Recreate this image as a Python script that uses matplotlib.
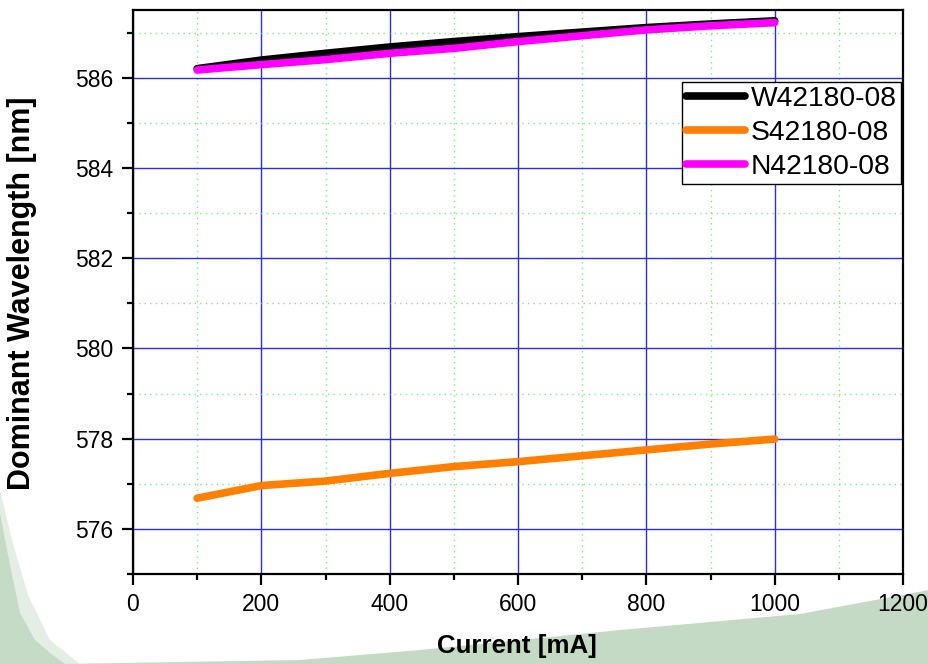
import matplotlib
matplotlib.use("Agg")
import matplotlib.pyplot as plt
from matplotlib.patches import Polygon
from matplotlib.ticker import MultipleLocator

current = [100, 200, 300, 400, 500, 600, 700, 800, 900, 1000]
w_series = [586.20, 586.39, 586.54, 586.68, 586.80, 586.91, 587.01, 587.11, 587.19, 587.26]
s_series = [576.68, 576.96, 577.06, 577.23, 577.38, 577.49, 577.62, 577.75, 577.88, 577.99]
n_series = [586.17, 586.29, 586.40, 586.54, 586.65, 586.80, 586.93, 587.06, 587.15, 587.22]
labels = ["W42180-08", "S42180-08", "N42180-08"]
colors = ["#000000", "#ff8000", "#ff00ff"]

plt.rcParams['font.family'] = ['Liberation Sans', 'DejaVu Sans']

fig = plt.figure(figsize=(9.29, 6.64), dpi=100)
fig.patch.set_facecolor('white')

# slide background decorations
W, H = 929, 664
def fp(pts):
    return [(x / W, 1 - y / H) for x, y in pts]
bg0 = Polygon(fp([(0, 490), (12, 540), (28, 595), (50, 640), (80, 664), (0, 664)]),
              closed=True, transform=fig.transFigure, facecolor='#e4eee4', edgecolor='none', zorder=-2)
bg1 = Polygon(fp([(0, 513), (8, 555), (20, 613), (35, 640), (50, 653), (65, 664), (0, 664)]),
              closed=True, transform=fig.transFigure, facecolor='#c6dbc6', edgecolor='none', zorder=-1)
bg2 = Polygon(fp([(60, 664), (300, 660), (420, 650), (620, 630), (800, 614), (929, 590), (929, 664)]),
              closed=True, transform=fig.transFigure, facecolor='#c4dac4', edgecolor='none', zorder=-1)
fig.patches.extend([bg0, bg1, bg2])

ax = fig.add_axes([133 / W, 1 - 574 / H, 770 / W, 564 / H])
ax.set_facecolor('white')

for y, lab, c in zip([w_series, s_series, n_series], labels, colors):
    ax.plot(current, y, color=c, lw=5.5, solid_capstyle='round', solid_joinstyle='round', label=lab, zorder=3)

ax.set_xlim(0, 1200)
ax.set_ylim(575, 587.5)
ax.xaxis.set_major_locator(MultipleLocator(200))
ax.xaxis.set_minor_locator(MultipleLocator(100))
ax.yaxis.set_minor_locator(MultipleLocator(1))
ax.set_yticks([576, 578, 580, 582, 584, 586])

ax.grid(which='major', color='#2a2aff', lw=1.0, ls='-', zorder=1)
ax.grid(which='minor', color='#77ee77', lw=1.0, ls=(0, (1, 3)), zorder=1)
ax.set_axisbelow(True)

for s in ax.spines.values():
    s.set_linewidth(1.6)
ax.tick_params(which='major', direction='out', length=8, width=1.6, labelsize=16.5, pad=6)
ax.tick_params(which='minor', direction='out', length=4.5, width=1.6)

ax.set_xlabel("Current [mA]", fontsize=18.6, fontweight='bold', va='center')
ax.xaxis.set_label_coords((517 - 133) / 770, (574 - 646) / 564)
ax.set_ylabel("Dominant Wavelength [nm]", fontsize=22, fontweight='bold', va='center')
ax.yaxis.set_label_coords((22 - 133) / 770, (574 - 293) / 564)

leg = ax.legend(loc='upper right', bbox_to_anchor=((901 - 133) / 770, (574 - 82) / 564),
                fontsize=20.3, frameon=True, fancybox=False, edgecolor='black', framealpha=1,
                handlelength=2.1, handletextpad=0.2, borderpad=0.15, labelspacing=0.28,
                borderaxespad=0)
leg.get_frame().set_linewidth(1.0)
leg.set_zorder(5)

fig.savefig("out.png", dpi=100)
